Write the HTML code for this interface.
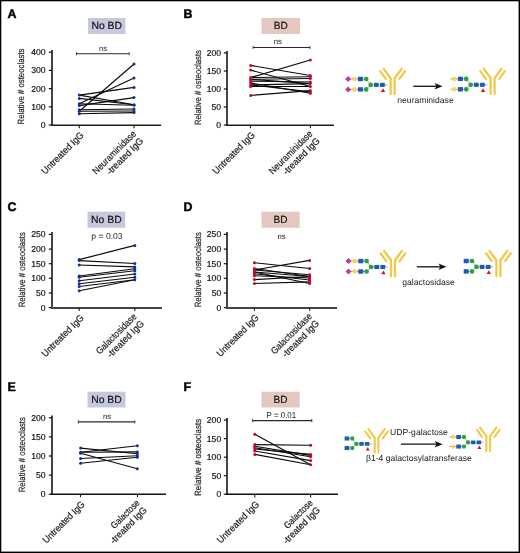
<!DOCTYPE html>
<html><head><meta charset="utf-8"><style>
html,body{margin:0;padding:0;background:#fff;width:520px;height:553px;overflow:hidden}
body{position:relative;font-family:"Liberation Sans", sans-serif}
svg text{text-rendering:geometricPrecision}
svg text.s{stroke:#1a1a1a;stroke-width:.2px;paint-order:stroke}
svg text.t{stroke:#111;stroke-width:.18px;paint-order:stroke}
</style></head><body>
<svg width="520" height="553" viewBox="0 0 520 553" style="position:absolute;left:0;top:0;will-change:transform"><g font-family='"Liberation Sans", sans-serif' style="paint-order:stroke"><text x="7.6" y="18" font-size="12.4" text-anchor="start" font-weight="bold" fill="#000" style="stroke:#000;stroke-width:.45px">A</text><rect x="88" y="18" width="37.5" height="16" fill="#c6c9dd"/><text class="s" x="106.75" y="28.9" font-size="10.4" text-anchor="middle" fill="#111" textLength="30.6" lengthAdjust="spacingAndGlyphs">No BD</text><line x1="52.0" y1="50" x2="52.0" y2="125.6" stroke="#454545" stroke-width="2"/><line x1="48.8" y1="52.2" x2="52.0" y2="52.2" stroke="#111" stroke-width="1.2"/><text x="45.5" y="55.2" font-size="8.6" text-anchor="end" font-weight="normal" fill="#111" class="t">400</text><line x1="48.8" y1="70.4" x2="52.0" y2="70.4" stroke="#111" stroke-width="1.2"/><text x="45.5" y="73.4" font-size="8.6" text-anchor="end" font-weight="normal" fill="#111" class="t">300</text><line x1="48.8" y1="88.6" x2="52.0" y2="88.6" stroke="#111" stroke-width="1.2"/><text x="45.5" y="91.6" font-size="8.6" text-anchor="end" font-weight="normal" fill="#111" class="t">200</text><line x1="48.8" y1="106.8" x2="52.0" y2="106.8" stroke="#111" stroke-width="1.2"/><text x="45.5" y="109.8" font-size="8.6" text-anchor="end" font-weight="normal" fill="#111" class="t">100</text><line x1="48.8" y1="125" x2="52.0" y2="125" stroke="#111" stroke-width="1.2"/><text x="45.5" y="128.0" font-size="8.6" text-anchor="end" font-weight="normal" fill="#111" class="t">0</text><text class="s" transform="translate(23.6,86.5) rotate(-90)" font-size="9" text-anchor="middle" fill="#222" textLength="76" lengthAdjust="spacingAndGlyphs">Relative # osteoclasts</text><line x1="51" y1="125.2" x2="161" y2="125.2" stroke="#1e1e1e" stroke-width="1.4"/><line x1="79.3" y1="125" x2="79.3" y2="128.2" stroke="#1a1a1a" stroke-width="1.1"/><line x1="134" y1="125" x2="134" y2="128.2" stroke="#1a1a1a" stroke-width="1.1"/><line x1="76.5" y1="53.7" x2="129.2" y2="53.7" stroke="#2a2a2a" stroke-width="1.1"/><line x1="76.5" y1="52.1" x2="76.5" y2="55.300000000000004" stroke="#333" stroke-width="0.9"/><line x1="129.2" y1="52.1" x2="129.2" y2="55.300000000000004" stroke="#333" stroke-width="0.9"/><text x="103" y="51" font-size="7.8" text-anchor="middle" font-weight="normal" fill="#222" >ns</text><line x1="79.3" y1="111.3" x2="134" y2="64.0" stroke="#0a0a0a" stroke-width="1.15"/><line x1="79.3" y1="103.7" x2="134" y2="78.1" stroke="#0a0a0a" stroke-width="1.15"/><line x1="79.3" y1="95.1" x2="134" y2="87.4" stroke="#0a0a0a" stroke-width="1.15"/><line x1="79.3" y1="95.1" x2="134" y2="104.7" stroke="#0a0a0a" stroke-width="1.15"/><line x1="79.3" y1="98.4" x2="134" y2="104.7" stroke="#0a0a0a" stroke-width="1.15"/><line x1="79.3" y1="105.6" x2="134" y2="97.6" stroke="#0a0a0a" stroke-width="1.15"/><line x1="79.3" y1="103.7" x2="134" y2="105.2" stroke="#0a0a0a" stroke-width="1.15"/><line x1="79.3" y1="109.8" x2="134" y2="109" stroke="#0a0a0a" stroke-width="1.15"/><line x1="79.3" y1="111.3" x2="134" y2="111" stroke="#0a0a0a" stroke-width="1.15"/><line x1="79.3" y1="113.8" x2="134" y2="112.6" stroke="#0a0a0a" stroke-width="1.15"/><circle cx="79.3" cy="95.1" r="1.5" fill="#13308a"/><circle cx="79.3" cy="98.4" r="1.5" fill="#13308a"/><circle cx="79.3" cy="103.7" r="1.5" fill="#13308a"/><circle cx="79.3" cy="105.6" r="1.5" fill="#13308a"/><circle cx="79.3" cy="109.8" r="1.5" fill="#13308a"/><circle cx="79.3" cy="111.3" r="1.5" fill="#13308a"/><circle cx="79.3" cy="113.8" r="1.5" fill="#13308a"/><circle cx="134" cy="64.0" r="1.5" fill="#13308a"/><circle cx="134" cy="78.1" r="1.5" fill="#13308a"/><circle cx="134" cy="87.4" r="1.5" fill="#13308a"/><circle cx="134" cy="97.6" r="1.5" fill="#13308a"/><circle cx="134" cy="104.7" r="1.5" fill="#13308a"/><circle cx="134" cy="105.2" r="1.5" fill="#13308a"/><circle cx="134" cy="109" r="1.5" fill="#13308a"/><circle cx="134" cy="111" r="1.5" fill="#13308a"/><circle cx="134" cy="112.6" r="1.5" fill="#13308a"/><text class="s" transform="translate(45.34,174.66) rotate(-45)" x="0" y="0" font-size="9.5" fill="#1a1a1a" textLength="55.1" lengthAdjust="spacingAndGlyphs">Untreated IgG</text><text class="s" transform="translate(96.35,174.75) rotate(-45)" x="0" y="0" font-size="9.5" fill="#1a1a1a" textLength="57.2" lengthAdjust="spacingAndGlyphs">Neuraminidase</text><text class="s" transform="translate(110.13,175.37) rotate(-45)" x="0" y="0" font-size="9.5" fill="#1a1a1a" textLength="47.9" lengthAdjust="spacingAndGlyphs">-treated IgG</text><text x="183.6" y="18" font-size="12.4" text-anchor="start" font-weight="bold" fill="#000" style="stroke:#000;stroke-width:.45px">B</text><rect x="261.5" y="18" width="38.5" height="16" fill="#e4c8bf"/><text class="s" x="280.75" y="28.9" font-size="10.4" text-anchor="middle" fill="#111" textLength="14.0" lengthAdjust="spacingAndGlyphs">BD</text><line x1="227.0" y1="51" x2="227.0" y2="125.6" stroke="#454545" stroke-width="2"/><line x1="223.8" y1="52.9" x2="227.0" y2="52.9" stroke="#111" stroke-width="1.2"/><text x="221" y="55.9" font-size="8.6" text-anchor="end" font-weight="normal" fill="#111" class="t">200</text><line x1="223.8" y1="71.0" x2="227.0" y2="71.0" stroke="#111" stroke-width="1.2"/><text x="221" y="74.0" font-size="8.6" text-anchor="end" font-weight="normal" fill="#111" class="t">150</text><line x1="223.8" y1="89.0" x2="227.0" y2="89.0" stroke="#111" stroke-width="1.2"/><text x="221" y="92.0" font-size="8.6" text-anchor="end" font-weight="normal" fill="#111" class="t">100</text><line x1="223.8" y1="107.0" x2="227.0" y2="107.0" stroke="#111" stroke-width="1.2"/><text x="221" y="110.0" font-size="8.6" text-anchor="end" font-weight="normal" fill="#111" class="t">50</text><line x1="223.8" y1="125" x2="227.0" y2="125" stroke="#111" stroke-width="1.2"/><text x="221" y="128.0" font-size="8.6" text-anchor="end" font-weight="normal" fill="#111" class="t">0</text><text class="s" transform="translate(200.8,87.6) rotate(-90)" font-size="9" text-anchor="middle" fill="#222" textLength="75" lengthAdjust="spacingAndGlyphs">Relative # osteoclasts</text><line x1="226" y1="125.2" x2="334" y2="125.2" stroke="#1e1e1e" stroke-width="1.4"/><line x1="250.5" y1="125" x2="250.5" y2="128.2" stroke="#1a1a1a" stroke-width="1.1"/><line x1="310.4" y1="125" x2="310.4" y2="128.2" stroke="#1a1a1a" stroke-width="1.1"/><line x1="253.1" y1="47.5" x2="309.9" y2="47.5" stroke="#2a2a2a" stroke-width="1.1"/><line x1="253.1" y1="45.9" x2="253.1" y2="49.1" stroke="#333" stroke-width="0.9"/><line x1="309.9" y1="45.9" x2="309.9" y2="49.1" stroke="#333" stroke-width="0.9"/><text x="277.8" y="44.2" font-size="7.8" text-anchor="middle" font-weight="normal" fill="#222" >ns</text><line x1="250.7" y1="65.4" x2="310.3" y2="75.5" stroke="#0a0a0a" stroke-width="1.15"/><line x1="250.7" y1="70.1" x2="310.3" y2="86.5" stroke="#0a0a0a" stroke-width="1.15"/><line x1="250.7" y1="77.5" x2="310.3" y2="60" stroke="#0a0a0a" stroke-width="1.15"/><line x1="250.7" y1="95.4" x2="310.3" y2="90.6" stroke="#0a0a0a" stroke-width="1.15"/><line x1="250.7" y1="82.9" x2="310.3" y2="93.3" stroke="#0a0a0a" stroke-width="1.15"/><line x1="250.7" y1="84.9" x2="310.3" y2="91.9" stroke="#0a0a0a" stroke-width="1.15"/><line x1="250.7" y1="77.5" x2="310.3" y2="76.8" stroke="#0a0a0a" stroke-width="1.15"/><line x1="250.7" y1="79.3" x2="310.3" y2="78.5" stroke="#0a0a0a" stroke-width="1.15"/><line x1="250.7" y1="81.1" x2="310.3" y2="82" stroke="#0a0a0a" stroke-width="1.15"/><line x1="250.7" y1="84.9" x2="310.3" y2="83.6" stroke="#0a0a0a" stroke-width="1.15"/><line x1="250.7" y1="86.5" x2="310.3" y2="86.5" stroke="#0a0a0a" stroke-width="1.15"/><line x1="250.7" y1="79.3" x2="310.3" y2="83.6" stroke="#0a0a0a" stroke-width="1.15"/><circle cx="250.7" cy="65.4" r="1.5" fill="#bb0a2a"/><circle cx="250.7" cy="70.1" r="1.5" fill="#bb0a2a"/><circle cx="250.7" cy="77.5" r="1.5" fill="#bb0a2a"/><circle cx="250.7" cy="79.3" r="1.5" fill="#bb0a2a"/><circle cx="250.7" cy="81.1" r="1.5" fill="#bb0a2a"/><circle cx="250.7" cy="82.9" r="1.5" fill="#bb0a2a"/><circle cx="250.7" cy="84.9" r="1.5" fill="#bb0a2a"/><circle cx="250.7" cy="86.5" r="1.5" fill="#bb0a2a"/><circle cx="250.7" cy="95.4" r="1.5" fill="#bb0a2a"/><circle cx="310.3" cy="60" r="1.5" fill="#bb0a2a"/><circle cx="310.3" cy="75.5" r="1.5" fill="#bb0a2a"/><circle cx="310.3" cy="76.8" r="1.5" fill="#bb0a2a"/><circle cx="310.3" cy="78.5" r="1.5" fill="#bb0a2a"/><circle cx="310.3" cy="82" r="1.5" fill="#bb0a2a"/><circle cx="310.3" cy="83.6" r="1.5" fill="#bb0a2a"/><circle cx="310.3" cy="86.5" r="1.5" fill="#bb0a2a"/><circle cx="310.3" cy="90.6" r="1.5" fill="#bb0a2a"/><circle cx="310.3" cy="91.9" r="1.5" fill="#bb0a2a"/><circle cx="310.3" cy="93.3" r="1.5" fill="#bb0a2a"/><text class="s" transform="translate(216.54,174.66) rotate(-45)" x="0" y="0" font-size="9.5" fill="#1a1a1a" textLength="55.1" lengthAdjust="spacingAndGlyphs">Untreated IgG</text><text class="s" transform="translate(272.75,174.75) rotate(-45)" x="0" y="0" font-size="9.5" fill="#1a1a1a" textLength="57.2" lengthAdjust="spacingAndGlyphs">Neuraminidase</text><text class="s" transform="translate(286.53,175.37) rotate(-45)" x="0" y="0" font-size="9.5" fill="#1a1a1a" textLength="47.9" lengthAdjust="spacingAndGlyphs">-treated IgG</text><line x1="348.09999999999997" y1="79.0" x2="366.2" y2="79.0" stroke="#9a9a9a" stroke-width="0.9"/><line x1="366.2" y1="79.0" x2="370.7" y2="84.9" stroke="#9a9a9a" stroke-width="0.9"/><line x1="348.09999999999997" y1="89.4" x2="366.2" y2="89.4" stroke="#9a9a9a" stroke-width="0.9"/><line x1="366.2" y1="89.4" x2="370.7" y2="84.9" stroke="#9a9a9a" stroke-width="0.9"/><line x1="370.7" y1="84.9" x2="387.3" y2="84.9" stroke="#9a9a9a" stroke-width="0.9"/><path d="M345.09999999999997,79.0 L348.09999999999997,76.0 L351.09999999999997,79.0 L348.09999999999997,82.0 Z" fill="#c13a9c"/><circle cx="354.4" cy="79.0" r="2.35" fill="#f6d565"/><rect x="357.9" y="76.8" width="5.0" height="4.4" fill="#1d5bb4"/><circle cx="366.2" cy="79.0" r="2.35" fill="#2e9f3e"/><path d="M345.09999999999997,89.4 L348.09999999999997,86.4 L351.09999999999997,89.4 L348.09999999999997,92.4 Z" fill="#c13a9c"/><circle cx="354.4" cy="89.4" r="2.35" fill="#f6d565"/><rect x="357.9" y="87.2" width="5.0" height="4.4" fill="#1d5bb4"/><circle cx="366.2" cy="89.4" r="2.35" fill="#2e9f3e"/><circle cx="370.7" cy="84.9" r="2.35" fill="#2e9f3e"/><rect x="373.95" y="82.85000000000001" width="4.7" height="4.1" fill="#1d5bb4"/><rect x="380.04999999999995" y="82.85000000000001" width="4.7" height="4.1" fill="#1d5bb4"/><path d="M383.0,88.30000000000001 L385.2,92.10000000000001 L380.8,92.10000000000001 Z" fill="#d81420"/><path d="M383.70,68.90 L390.60,78.20 L390.60,94.20" fill="none" stroke="#f1c94a" stroke-width="2.3" stroke-linecap="round" stroke-linejoin="round"/><path d="M401.50,68.90 L394.60,78.20 L394.60,94.20" fill="none" stroke="#f1c94a" stroke-width="2.3" stroke-linecap="round" stroke-linejoin="round"/><path d="M380.30,71.30 L385.80,78.90" fill="none" stroke="#f1c94a" stroke-width="2.3" stroke-linecap="round" stroke-linejoin="round"/><path d="M404.90,71.30 L399.40,78.90" fill="none" stroke="#f1c94a" stroke-width="2.3" stroke-linecap="round" stroke-linejoin="round"/><line x1="413.2" y1="86.3" x2="438.5" y2="86.3" stroke="#111" stroke-width="1.3"/><path d="M442.5,86.3 L434.5,83.0 L436.5,86.3 L434.5,89.6 Z" fill="#111"/><text x="397.3" y="102.8" font-size="8.6" text-anchor="start" font-weight="normal" fill="#222" >neuraminidase</text><line x1="450.2" y1="78.89999999999999" x2="466.2" y2="78.89999999999999" stroke="#9a9a9a" stroke-width="0.9"/><line x1="466.2" y1="78.89999999999999" x2="470.7" y2="84.8" stroke="#9a9a9a" stroke-width="0.9"/><line x1="450.2" y1="89.3" x2="466.2" y2="89.3" stroke="#9a9a9a" stroke-width="0.9"/><line x1="466.2" y1="89.3" x2="470.7" y2="84.8" stroke="#9a9a9a" stroke-width="0.9"/><line x1="470.7" y1="84.8" x2="487.3" y2="84.8" stroke="#9a9a9a" stroke-width="0.9"/><circle cx="454.4" cy="78.89999999999999" r="2.35" fill="#f6d565"/><rect x="457.9" y="76.69999999999999" width="5.0" height="4.4" fill="#1d5bb4"/><circle cx="466.2" cy="78.89999999999999" r="2.35" fill="#2e9f3e"/><circle cx="454.4" cy="89.3" r="2.35" fill="#f6d565"/><rect x="457.9" y="87.1" width="5.0" height="4.4" fill="#1d5bb4"/><circle cx="466.2" cy="89.3" r="2.35" fill="#2e9f3e"/><circle cx="470.7" cy="84.8" r="2.35" fill="#2e9f3e"/><rect x="473.95" y="82.75" width="4.7" height="4.1" fill="#1d5bb4"/><rect x="480.04999999999995" y="82.75" width="4.7" height="4.1" fill="#1d5bb4"/><path d="M483.0,88.2 L485.2,92.0 L480.8,92.0 Z" fill="#d81420"/><path d="M483.70,68.80 L490.60,78.10 L490.60,94.10" fill="none" stroke="#f1c94a" stroke-width="2.3" stroke-linecap="round" stroke-linejoin="round"/><path d="M501.50,68.80 L494.60,78.10 L494.60,94.10" fill="none" stroke="#f1c94a" stroke-width="2.3" stroke-linecap="round" stroke-linejoin="round"/><path d="M480.30,71.20 L485.80,78.80" fill="none" stroke="#f1c94a" stroke-width="2.3" stroke-linecap="round" stroke-linejoin="round"/><path d="M504.90,71.20 L499.40,78.80" fill="none" stroke="#f1c94a" stroke-width="2.3" stroke-linecap="round" stroke-linejoin="round"/><text x="7.6" y="211.3" font-size="12.4" text-anchor="start" font-weight="bold" fill="#000" style="stroke:#000;stroke-width:.45px">C</text><rect x="87.5" y="211.7" width="37.7" height="16.1" fill="#c6c9dd"/><text class="s" x="106.35" y="222.6" font-size="10.4" text-anchor="middle" fill="#111" textLength="30.6" lengthAdjust="spacingAndGlyphs">No BD</text><line x1="52.0" y1="232" x2="52.0" y2="308.20000000000005" stroke="#454545" stroke-width="2"/><line x1="48.8" y1="234.4" x2="52.0" y2="234.4" stroke="#111" stroke-width="1.2"/><text x="45.5" y="237.4" font-size="8.6" text-anchor="end" font-weight="normal" fill="#111" class="t">250</text><line x1="48.8" y1="249.1" x2="52.0" y2="249.1" stroke="#111" stroke-width="1.2"/><text x="45.5" y="252.1" font-size="8.6" text-anchor="end" font-weight="normal" fill="#111" class="t">200</text><line x1="48.8" y1="263.7" x2="52.0" y2="263.7" stroke="#111" stroke-width="1.2"/><text x="45.5" y="266.7" font-size="8.6" text-anchor="end" font-weight="normal" fill="#111" class="t">150</text><line x1="48.8" y1="278.3" x2="52.0" y2="278.3" stroke="#111" stroke-width="1.2"/><text x="45.5" y="281.3" font-size="8.6" text-anchor="end" font-weight="normal" fill="#111" class="t">100</text><line x1="48.8" y1="293.0" x2="52.0" y2="293.0" stroke="#111" stroke-width="1.2"/><text x="45.5" y="296.0" font-size="8.6" text-anchor="end" font-weight="normal" fill="#111" class="t">50</text><line x1="48.8" y1="307.6" x2="52.0" y2="307.6" stroke="#111" stroke-width="1.2"/><text x="45.5" y="310.6" font-size="8.6" text-anchor="end" font-weight="normal" fill="#111" class="t">0</text><text class="s" transform="translate(25.1,269.7) rotate(-90)" font-size="9" text-anchor="middle" fill="#222" textLength="75" lengthAdjust="spacingAndGlyphs">Relative # osteoclasts</text><line x1="51" y1="308.0" x2="162" y2="308.0" stroke="#444" stroke-width="2.0"/><line x1="79.2" y1="307.8" x2="79.2" y2="311.0" stroke="#1a1a1a" stroke-width="1.1"/><line x1="134.8" y1="307.8" x2="134.8" y2="311.0" stroke="#1a1a1a" stroke-width="1.1"/><text x="107" y="239.4" font-size="8.6" text-anchor="middle" font-weight="normal" fill="#222" >p = 0.03</text><line x1="79.2" y1="259.6" x2="134.8" y2="245.4" stroke="#0a0a0a" stroke-width="1.15"/><line x1="79.2" y1="260.6" x2="134.8" y2="263.5" stroke="#0a0a0a" stroke-width="1.15"/><line x1="79.2" y1="265" x2="134.8" y2="266.9" stroke="#0a0a0a" stroke-width="1.15"/><line x1="79.2" y1="276" x2="134.8" y2="268.7" stroke="#0a0a0a" stroke-width="1.15"/><line x1="79.2" y1="277.3" x2="134.8" y2="270.8" stroke="#0a0a0a" stroke-width="1.15"/><line x1="79.2" y1="280.8" x2="134.8" y2="274" stroke="#0a0a0a" stroke-width="1.15"/><line x1="79.2" y1="283.7" x2="134.8" y2="277.3" stroke="#0a0a0a" stroke-width="1.15"/><line x1="79.2" y1="286.5" x2="134.8" y2="279.8" stroke="#0a0a0a" stroke-width="1.15"/><line x1="79.2" y1="290.8" x2="134.8" y2="279.8" stroke="#0a0a0a" stroke-width="1.15"/><circle cx="79.2" cy="259.6" r="1.5" fill="#13308a"/><circle cx="79.2" cy="260.6" r="1.5" fill="#13308a"/><circle cx="79.2" cy="265" r="1.5" fill="#13308a"/><circle cx="79.2" cy="276" r="1.5" fill="#13308a"/><circle cx="79.2" cy="277.3" r="1.5" fill="#13308a"/><circle cx="79.2" cy="280.8" r="1.5" fill="#13308a"/><circle cx="79.2" cy="283.7" r="1.5" fill="#13308a"/><circle cx="79.2" cy="286.5" r="1.5" fill="#13308a"/><circle cx="79.2" cy="290.8" r="1.5" fill="#13308a"/><circle cx="134.8" cy="245.4" r="1.5" fill="#13308a"/><circle cx="134.8" cy="263.5" r="1.5" fill="#13308a"/><circle cx="134.8" cy="266.9" r="1.5" fill="#13308a"/><circle cx="134.8" cy="268.7" r="1.5" fill="#13308a"/><circle cx="134.8" cy="270.8" r="1.5" fill="#13308a"/><circle cx="134.8" cy="274" r="1.5" fill="#13308a"/><circle cx="134.8" cy="277.3" r="1.5" fill="#13308a"/><circle cx="134.8" cy="279.8" r="1.5" fill="#13308a"/><text class="s" transform="translate(45.44,357.46) rotate(-45)" x="0" y="0" font-size="9.5" fill="#1a1a1a" textLength="55.1" lengthAdjust="spacingAndGlyphs">Untreated IgG</text><text class="s" transform="translate(99.64,354.86) rotate(-45)" x="0" y="0" font-size="9.5" fill="#1a1a1a" textLength="53.4" lengthAdjust="spacingAndGlyphs">Galactosidase</text><text class="s" transform="translate(110.73,358.17) rotate(-45)" x="0" y="0" font-size="9.5" fill="#1a1a1a" textLength="47.9" lengthAdjust="spacingAndGlyphs">-treated IgG</text><text x="183.4" y="211.3" font-size="12.4" text-anchor="start" font-weight="bold" fill="#000" style="stroke:#000;stroke-width:.45px">D</text><rect x="261.5" y="211.7" width="38.2" height="16.1" fill="#e4c8bf"/><text class="s" x="280.6" y="222.6" font-size="10.4" text-anchor="middle" fill="#111" textLength="14.0" lengthAdjust="spacingAndGlyphs">BD</text><line x1="227.0" y1="232" x2="227.0" y2="308.20000000000005" stroke="#454545" stroke-width="2"/><line x1="223.8" y1="234.4" x2="227.0" y2="234.4" stroke="#111" stroke-width="1.2"/><text x="221.2" y="237.4" font-size="8.6" text-anchor="end" font-weight="normal" fill="#111" class="t">250</text><line x1="223.8" y1="249.1" x2="227.0" y2="249.1" stroke="#111" stroke-width="1.2"/><text x="221.2" y="252.1" font-size="8.6" text-anchor="end" font-weight="normal" fill="#111" class="t">200</text><line x1="223.8" y1="263.7" x2="227.0" y2="263.7" stroke="#111" stroke-width="1.2"/><text x="221.2" y="266.7" font-size="8.6" text-anchor="end" font-weight="normal" fill="#111" class="t">150</text><line x1="223.8" y1="278.3" x2="227.0" y2="278.3" stroke="#111" stroke-width="1.2"/><text x="221.2" y="281.3" font-size="8.6" text-anchor="end" font-weight="normal" fill="#111" class="t">100</text><line x1="223.8" y1="293.0" x2="227.0" y2="293.0" stroke="#111" stroke-width="1.2"/><text x="221.2" y="296.0" font-size="8.6" text-anchor="end" font-weight="normal" fill="#111" class="t">50</text><line x1="223.8" y1="307.6" x2="227.0" y2="307.6" stroke="#111" stroke-width="1.2"/><text x="221.2" y="310.6" font-size="8.6" text-anchor="end" font-weight="normal" fill="#111" class="t">0</text><text class="s" transform="translate(200.6,269.7) rotate(-90)" font-size="9" text-anchor="middle" fill="#222" textLength="75" lengthAdjust="spacingAndGlyphs">Relative # osteoclasts</text><line x1="226" y1="308.0" x2="337" y2="308.0" stroke="#444" stroke-width="2.0"/><line x1="254.4" y1="307.6" x2="254.4" y2="310.8" stroke="#1a1a1a" stroke-width="1.1"/><line x1="309.7" y1="307.6" x2="309.7" y2="310.8" stroke="#1a1a1a" stroke-width="1.1"/><text x="281.5" y="239.4" font-size="7.8" text-anchor="middle" font-weight="normal" fill="#222" >ns</text><line x1="254.4" y1="262.7" x2="309.6" y2="268.5" stroke="#0a0a0a" stroke-width="1.15"/><line x1="254.4" y1="270" x2="309.6" y2="260.4" stroke="#0a0a0a" stroke-width="1.15"/><line x1="254.4" y1="268.5" x2="309.6" y2="276.5" stroke="#0a0a0a" stroke-width="1.15"/><line x1="254.4" y1="272" x2="309.6" y2="283.5" stroke="#0a0a0a" stroke-width="1.15"/><line x1="254.4" y1="273.8" x2="309.6" y2="280" stroke="#0a0a0a" stroke-width="1.15"/><line x1="254.4" y1="275.8" x2="309.6" y2="278" stroke="#0a0a0a" stroke-width="1.15"/><line x1="254.4" y1="279.6" x2="309.6" y2="276.5" stroke="#0a0a0a" stroke-width="1.15"/><line x1="254.4" y1="283.5" x2="309.6" y2="281.9" stroke="#0a0a0a" stroke-width="1.15"/><line x1="254.4" y1="270" x2="309.6" y2="274.8" stroke="#0a0a0a" stroke-width="1.15"/><line x1="254.4" y1="272" x2="309.6" y2="276.5" stroke="#0a0a0a" stroke-width="1.15"/><circle cx="254.4" cy="262.7" r="1.5" fill="#bb0a2a"/><circle cx="254.4" cy="268.5" r="1.5" fill="#bb0a2a"/><circle cx="254.4" cy="270" r="1.5" fill="#bb0a2a"/><circle cx="254.4" cy="272" r="1.5" fill="#bb0a2a"/><circle cx="254.4" cy="273.8" r="1.5" fill="#bb0a2a"/><circle cx="254.4" cy="275.8" r="1.5" fill="#bb0a2a"/><circle cx="254.4" cy="279.6" r="1.5" fill="#bb0a2a"/><circle cx="254.4" cy="283.5" r="1.5" fill="#bb0a2a"/><circle cx="309.6" cy="260.4" r="1.5" fill="#bb0a2a"/><circle cx="309.6" cy="268.5" r="1.5" fill="#bb0a2a"/><circle cx="309.6" cy="274.8" r="1.5" fill="#bb0a2a"/><circle cx="309.6" cy="276.5" r="1.5" fill="#bb0a2a"/><circle cx="309.6" cy="278" r="1.5" fill="#bb0a2a"/><circle cx="309.6" cy="280" r="1.5" fill="#bb0a2a"/><circle cx="309.6" cy="281.9" r="1.5" fill="#bb0a2a"/><circle cx="309.6" cy="283.5" r="1.5" fill="#bb0a2a"/><text class="s" transform="translate(220.44,357.26) rotate(-45)" x="0" y="0" font-size="9.5" fill="#1a1a1a" textLength="55.1" lengthAdjust="spacingAndGlyphs">Untreated IgG</text><text class="s" transform="translate(274.74,354.66) rotate(-45)" x="0" y="0" font-size="9.5" fill="#1a1a1a" textLength="53.4" lengthAdjust="spacingAndGlyphs">Galactosidase</text><text class="s" transform="translate(285.83,357.97) rotate(-45)" x="0" y="0" font-size="9.5" fill="#1a1a1a" textLength="47.9" lengthAdjust="spacingAndGlyphs">-treated IgG</text><line x1="348.5" y1="261.1" x2="366.6" y2="261.1" stroke="#9a9a9a" stroke-width="0.9"/><line x1="366.6" y1="261.1" x2="371.1" y2="267.0" stroke="#9a9a9a" stroke-width="0.9"/><line x1="348.5" y1="271.5" x2="366.6" y2="271.5" stroke="#9a9a9a" stroke-width="0.9"/><line x1="366.6" y1="271.5" x2="371.1" y2="267.0" stroke="#9a9a9a" stroke-width="0.9"/><line x1="371.1" y1="267.0" x2="387.70000000000005" y2="267.0" stroke="#9a9a9a" stroke-width="0.9"/><path d="M345.5,261.1 L348.5,258.1 L351.5,261.1 L348.5,264.1 Z" fill="#c13a9c"/><circle cx="354.8" cy="261.1" r="2.35" fill="#f6d565"/><rect x="358.3" y="258.90000000000003" width="5.0" height="4.4" fill="#1d5bb4"/><circle cx="366.6" cy="261.1" r="2.35" fill="#2e9f3e"/><path d="M345.5,271.5 L348.5,268.5 L351.5,271.5 L348.5,274.5 Z" fill="#c13a9c"/><circle cx="354.8" cy="271.5" r="2.35" fill="#f6d565"/><rect x="358.3" y="269.3" width="5.0" height="4.4" fill="#1d5bb4"/><circle cx="366.6" cy="271.5" r="2.35" fill="#2e9f3e"/><circle cx="371.1" cy="267.0" r="2.35" fill="#2e9f3e"/><rect x="374.35" y="264.95" width="4.7" height="4.1" fill="#1d5bb4"/><rect x="380.45" y="264.95" width="4.7" height="4.1" fill="#1d5bb4"/><path d="M383.40000000000003,270.4 L385.6,274.2 L381.20000000000005,274.2 Z" fill="#d81420"/><path d="M384.10,251.00 L391.00,260.30 L391.00,276.30" fill="none" stroke="#f1c94a" stroke-width="2.3" stroke-linecap="round" stroke-linejoin="round"/><path d="M401.90,251.00 L395.00,260.30 L395.00,276.30" fill="none" stroke="#f1c94a" stroke-width="2.3" stroke-linecap="round" stroke-linejoin="round"/><path d="M380.70,253.40 L386.20,261.00" fill="none" stroke="#f1c94a" stroke-width="2.3" stroke-linecap="round" stroke-linejoin="round"/><path d="M405.30,253.40 L399.80,261.00" fill="none" stroke="#f1c94a" stroke-width="2.3" stroke-linecap="round" stroke-linejoin="round"/><line x1="416.8" y1="266.8" x2="442.4" y2="266.8" stroke="#111" stroke-width="1.3"/><path d="M446.4,266.8 L438.4,263.5 L440.4,266.8 L438.4,270.1 Z" fill="#111"/><text x="402.3" y="285.1" font-size="8.6" text-anchor="start" font-weight="normal" fill="#222" >galactosidase</text><line x1="466.2" y1="261.0" x2="472.0" y2="261.0" stroke="#9a9a9a" stroke-width="0.9"/><line x1="472.0" y1="261.0" x2="476.5" y2="266.9" stroke="#9a9a9a" stroke-width="0.9"/><line x1="466.2" y1="271.4" x2="472.0" y2="271.4" stroke="#9a9a9a" stroke-width="0.9"/><line x1="472.0" y1="271.4" x2="476.5" y2="266.9" stroke="#9a9a9a" stroke-width="0.9"/><line x1="476.5" y1="266.9" x2="493.1" y2="266.9" stroke="#9a9a9a" stroke-width="0.9"/><rect x="463.7" y="258.8" width="5.0" height="4.4" fill="#1d5bb4"/><circle cx="472.0" cy="261.0" r="2.35" fill="#2e9f3e"/><rect x="463.7" y="269.2" width="5.0" height="4.4" fill="#1d5bb4"/><circle cx="472.0" cy="271.4" r="2.35" fill="#2e9f3e"/><circle cx="476.5" cy="266.9" r="2.35" fill="#2e9f3e"/><rect x="479.75" y="264.84999999999997" width="4.7" height="4.1" fill="#1d5bb4"/><rect x="485.84999999999997" y="264.84999999999997" width="4.7" height="4.1" fill="#1d5bb4"/><path d="M488.8,270.29999999999995 L491.0,274.09999999999997 L486.6,274.09999999999997 Z" fill="#d81420"/><path d="M489.50,250.90 L496.40,260.20 L496.40,276.20" fill="none" stroke="#f1c94a" stroke-width="2.3" stroke-linecap="round" stroke-linejoin="round"/><path d="M507.30,250.90 L500.40,260.20 L500.40,276.20" fill="none" stroke="#f1c94a" stroke-width="2.3" stroke-linecap="round" stroke-linejoin="round"/><path d="M486.10,253.30 L491.60,260.90" fill="none" stroke="#f1c94a" stroke-width="2.3" stroke-linecap="round" stroke-linejoin="round"/><path d="M510.70,253.30 L505.20,260.90" fill="none" stroke="#f1c94a" stroke-width="2.3" stroke-linecap="round" stroke-linejoin="round"/><text x="7.4" y="390.8" font-size="12.4" text-anchor="start" font-weight="bold" fill="#000" style="stroke:#000;stroke-width:.45px">E</text><rect x="87.5" y="391.7" width="38" height="15.8" fill="#c6c9dd"/><text class="s" x="106.5" y="402.59999999999997" font-size="10.4" text-anchor="middle" fill="#111" textLength="30.6" lengthAdjust="spacingAndGlyphs">No BD</text><line x1="52.0" y1="415.5" x2="52.0" y2="494.8" stroke="#454545" stroke-width="2"/><line x1="48.8" y1="417.8" x2="52.0" y2="417.8" stroke="#111" stroke-width="1.2"/><text x="45.5" y="420.8" font-size="8.6" text-anchor="end" font-weight="normal" fill="#111" class="t">200</text><line x1="48.8" y1="436.9" x2="52.0" y2="436.9" stroke="#111" stroke-width="1.2"/><text x="45.5" y="439.9" font-size="8.6" text-anchor="end" font-weight="normal" fill="#111" class="t">150</text><line x1="48.8" y1="456.0" x2="52.0" y2="456.0" stroke="#111" stroke-width="1.2"/><text x="45.5" y="459.0" font-size="8.6" text-anchor="end" font-weight="normal" fill="#111" class="t">100</text><line x1="48.8" y1="475.1" x2="52.0" y2="475.1" stroke="#111" stroke-width="1.2"/><text x="45.5" y="478.1" font-size="8.6" text-anchor="end" font-weight="normal" fill="#111" class="t">50</text><line x1="48.8" y1="494.2" x2="52.0" y2="494.2" stroke="#111" stroke-width="1.2"/><text x="45.5" y="497.2" font-size="8.6" text-anchor="end" font-weight="normal" fill="#111" class="t">0</text><text class="s" transform="translate(25.1,454.7) rotate(-90)" font-size="9" text-anchor="middle" fill="#222" textLength="75" lengthAdjust="spacingAndGlyphs">Relative # osteoclasts</text><line x1="51" y1="494.3" x2="166" y2="494.3" stroke="#111" stroke-width="1.4"/><line x1="80.5" y1="494.1" x2="80.5" y2="497.3" stroke="#1a1a1a" stroke-width="1.1"/><line x1="137.5" y1="494.1" x2="137.5" y2="497.3" stroke="#1a1a1a" stroke-width="1.1"/><line x1="78.3" y1="421.9" x2="134.8" y2="421.9" stroke="#2a2a2a" stroke-width="1.1"/><line x1="78.3" y1="420.29999999999995" x2="78.3" y2="423.5" stroke="#333" stroke-width="0.9"/><line x1="134.8" y1="420.29999999999995" x2="134.8" y2="423.5" stroke="#333" stroke-width="0.9"/><text x="107" y="419.2" font-size="7.8" text-anchor="middle" font-weight="normal" fill="#222" >ns</text><line x1="80.6" y1="448.1" x2="137.3" y2="453.8" stroke="#0a0a0a" stroke-width="1.15"/><line x1="80.6" y1="452.3" x2="137.3" y2="445.8" stroke="#0a0a0a" stroke-width="1.15"/><line x1="80.6" y1="453.3" x2="137.3" y2="468.8" stroke="#0a0a0a" stroke-width="1.15"/><line x1="80.6" y1="452.3" x2="137.3" y2="451.9" stroke="#0a0a0a" stroke-width="1.15"/><line x1="80.6" y1="458.5" x2="137.3" y2="455.8" stroke="#0a0a0a" stroke-width="1.15"/><line x1="80.6" y1="463.3" x2="137.3" y2="457.3" stroke="#0a0a0a" stroke-width="1.15"/><circle cx="80.6" cy="448.1" r="1.5" fill="#13308a"/><circle cx="80.6" cy="452.3" r="1.5" fill="#13308a"/><circle cx="80.6" cy="453.3" r="1.5" fill="#13308a"/><circle cx="80.6" cy="458.5" r="1.5" fill="#13308a"/><circle cx="80.6" cy="463.3" r="1.5" fill="#13308a"/><circle cx="137.3" cy="445.8" r="1.5" fill="#13308a"/><circle cx="137.3" cy="451.9" r="1.5" fill="#13308a"/><circle cx="137.3" cy="453.8" r="1.5" fill="#13308a"/><circle cx="137.3" cy="455.8" r="1.5" fill="#13308a"/><circle cx="137.3" cy="457.3" r="1.5" fill="#13308a"/><circle cx="137.3" cy="468.8" r="1.5" fill="#13308a"/><text class="s" transform="translate(46.44,543.86) rotate(-45)" x="0" y="0" font-size="9.5" fill="#1a1a1a" textLength="55.1" lengthAdjust="spacingAndGlyphs">Untreated IgG</text><text class="s" transform="translate(114.56,529.24) rotate(-45)" x="0" y="0" font-size="9.5" fill="#1a1a1a" textLength="36.4" lengthAdjust="spacingAndGlyphs">Galactose</text><text class="s" transform="translate(113.63,544.57) rotate(-45)" x="0" y="0" font-size="9.5" fill="#1a1a1a" textLength="47.9" lengthAdjust="spacingAndGlyphs">-treated IgG</text><text x="183.6" y="390.6" font-size="12.4" text-anchor="start" font-weight="bold" fill="#000" style="stroke:#000;stroke-width:.45px">F</text><rect x="261.5" y="391.7" width="38.2" height="15.8" fill="#e4c8bf"/><text class="s" x="280.6" y="402.59999999999997" font-size="10.4" text-anchor="middle" fill="#111" textLength="14.0" lengthAdjust="spacingAndGlyphs">BD</text><line x1="227.0" y1="418" x2="227.0" y2="494.8" stroke="#454545" stroke-width="2"/><line x1="223.8" y1="420.1" x2="227.0" y2="420.1" stroke="#111" stroke-width="1.2"/><text x="221.2" y="423.1" font-size="8.6" text-anchor="end" font-weight="normal" fill="#111" class="t">200</text><line x1="223.8" y1="438.6" x2="227.0" y2="438.6" stroke="#111" stroke-width="1.2"/><text x="221.2" y="441.6" font-size="8.6" text-anchor="end" font-weight="normal" fill="#111" class="t">150</text><line x1="223.8" y1="457.2" x2="227.0" y2="457.2" stroke="#111" stroke-width="1.2"/><text x="221.2" y="460.2" font-size="8.6" text-anchor="end" font-weight="normal" fill="#111" class="t">100</text><line x1="223.8" y1="475.7" x2="227.0" y2="475.7" stroke="#111" stroke-width="1.2"/><text x="221.2" y="478.7" font-size="8.6" text-anchor="end" font-weight="normal" fill="#111" class="t">50</text><line x1="223.8" y1="494.2" x2="227.0" y2="494.2" stroke="#111" stroke-width="1.2"/><text x="221.2" y="497.2" font-size="8.6" text-anchor="end" font-weight="normal" fill="#111" class="t">0</text><text class="s" transform="translate(200.6,457.4) rotate(-90)" font-size="9" text-anchor="middle" fill="#222" textLength="77" lengthAdjust="spacingAndGlyphs">Relative # osteoclasts</text><line x1="226" y1="494.3" x2="338" y2="494.3" stroke="#111" stroke-width="1.4"/><line x1="254.8" y1="494.2" x2="254.8" y2="497.4" stroke="#1a1a1a" stroke-width="1.1"/><line x1="310.6" y1="494.2" x2="310.6" y2="497.4" stroke="#1a1a1a" stroke-width="1.1"/><line x1="252.6" y1="420.6" x2="311.8" y2="420.6" stroke="#2a2a2a" stroke-width="1.1"/><line x1="252.6" y1="419.0" x2="252.6" y2="422.20000000000005" stroke="#333" stroke-width="0.9"/><line x1="311.8" y1="419.0" x2="311.8" y2="422.20000000000005" stroke="#333" stroke-width="0.9"/><text x="281.4" y="417.5" font-size="8.6" text-anchor="middle" font-weight="normal" fill="#222" textLength="29.6" lengthAdjust="spacingAndGlyphs">P = 0.01</text><line x1="254.8" y1="434.2" x2="310.6" y2="464.8" stroke="#0a0a0a" stroke-width="1.15"/><line x1="254.8" y1="444.6" x2="310.6" y2="445.2" stroke="#0a0a0a" stroke-width="1.15"/><line x1="254.8" y1="446.2" x2="310.6" y2="455.4" stroke="#0a0a0a" stroke-width="1.15"/><line x1="254.8" y1="447.7" x2="310.6" y2="456.7" stroke="#0a0a0a" stroke-width="1.15"/><line x1="254.8" y1="449" x2="310.6" y2="454.4" stroke="#0a0a0a" stroke-width="1.15"/><line x1="254.8" y1="451" x2="310.6" y2="460.6" stroke="#0a0a0a" stroke-width="1.15"/><line x1="254.8" y1="454.4" x2="310.6" y2="464.8" stroke="#0a0a0a" stroke-width="1.15"/><circle cx="254.8" cy="434.2" r="1.5" fill="#bb0a2a"/><circle cx="254.8" cy="444.6" r="1.5" fill="#bb0a2a"/><circle cx="254.8" cy="446.2" r="1.5" fill="#bb0a2a"/><circle cx="254.8" cy="447.7" r="1.5" fill="#bb0a2a"/><circle cx="254.8" cy="449" r="1.5" fill="#bb0a2a"/><circle cx="254.8" cy="451" r="1.5" fill="#bb0a2a"/><circle cx="254.8" cy="454.4" r="1.5" fill="#bb0a2a"/><circle cx="310.6" cy="445.2" r="1.5" fill="#bb0a2a"/><circle cx="310.6" cy="454.4" r="1.5" fill="#bb0a2a"/><circle cx="310.6" cy="455.4" r="1.5" fill="#bb0a2a"/><circle cx="310.6" cy="456.7" r="1.5" fill="#bb0a2a"/><circle cx="310.6" cy="460.6" r="1.5" fill="#bb0a2a"/><circle cx="310.6" cy="464.8" r="1.5" fill="#bb0a2a"/><text class="s" transform="translate(220.84,543.86) rotate(-45)" x="0" y="0" font-size="9.5" fill="#1a1a1a" textLength="55.1" lengthAdjust="spacingAndGlyphs">Untreated IgG</text><text class="s" transform="translate(287.66,529.24) rotate(-45)" x="0" y="0" font-size="9.5" fill="#1a1a1a" textLength="36.4" lengthAdjust="spacingAndGlyphs">Galactose</text><text class="s" transform="translate(286.73,544.57) rotate(-45)" x="0" y="0" font-size="9.5" fill="#1a1a1a" textLength="47.9" lengthAdjust="spacingAndGlyphs">-treated IgG</text><line x1="346.924" y1="438.472" x2="352.26" y2="438.472" stroke="#9a9a9a" stroke-width="0.9"/><line x1="352.26" y1="438.472" x2="356.4" y2="443.9" stroke="#9a9a9a" stroke-width="0.9"/><line x1="346.924" y1="448.03999999999996" x2="352.26" y2="448.03999999999996" stroke="#9a9a9a" stroke-width="0.9"/><line x1="352.26" y1="448.03999999999996" x2="356.4" y2="443.9" stroke="#9a9a9a" stroke-width="0.9"/><line x1="356.4" y1="443.9" x2="371.67199999999997" y2="443.9" stroke="#9a9a9a" stroke-width="0.9"/><rect x="344.62399999999997" y="436.448" width="4.6000000000000005" height="4.048000000000001" fill="#1d5bb4"/><circle cx="352.26" cy="438.472" r="2.1620000000000004" fill="#2e9f3e"/><rect x="344.62399999999997" y="446.01599999999996" width="4.6000000000000005" height="4.048000000000001" fill="#1d5bb4"/><circle cx="352.26" cy="448.03999999999996" r="2.1620000000000004" fill="#2e9f3e"/><circle cx="356.4" cy="443.9" r="2.1620000000000004" fill="#2e9f3e"/><rect x="359.39" y="442.01399999999995" width="4.324000000000001" height="3.772" fill="#1d5bb4"/><rect x="365.002" y="442.01399999999995" width="4.324000000000001" height="3.772" fill="#1d5bb4"/><path d="M367.71599999999995,447.028 L369.73999999999995,450.524 L365.69199999999995,450.524 Z" fill="#d81420"/><path d="M368.36,429.18 L374.71,437.74 L374.71,452.46" fill="none" stroke="#f1c94a" stroke-width="2.116" stroke-linecap="round" stroke-linejoin="round"/><path d="M384.74,429.18 L378.39,437.74 L378.39,452.46" fill="none" stroke="#f1c94a" stroke-width="2.116" stroke-linecap="round" stroke-linejoin="round"/><path d="M365.23,431.39 L370.29,438.38" fill="none" stroke="#f1c94a" stroke-width="2.116" stroke-linecap="round" stroke-linejoin="round"/><path d="M387.86,431.39 L382.80,438.38" fill="none" stroke="#f1c94a" stroke-width="2.116" stroke-linecap="round" stroke-linejoin="round"/><line x1="400.9" y1="444.2" x2="438.6" y2="444.2" stroke="#111" stroke-width="1.3"/><path d="M442.6,444.2 L434.6,440.9 L436.6,444.2 L434.6,447.5 Z" fill="#111"/><text x="390.1" y="434.8" font-size="8.6" text-anchor="start" font-weight="normal" fill="#222" >UDP-galactose</text><text x="366.0" y="461.3" font-size="8.6" text-anchor="start" font-weight="normal" fill="#222" >β1-4 galactosylatransferase</text><line x1="449.24" y1="436.972" x2="463.96000000000004" y2="436.972" stroke="#9a9a9a" stroke-width="0.9"/><line x1="463.96000000000004" y1="436.972" x2="468.1" y2="442.4" stroke="#9a9a9a" stroke-width="0.9"/><line x1="449.24" y1="446.53999999999996" x2="463.96000000000004" y2="446.53999999999996" stroke="#9a9a9a" stroke-width="0.9"/><line x1="463.96000000000004" y1="446.53999999999996" x2="468.1" y2="442.4" stroke="#9a9a9a" stroke-width="0.9"/><line x1="468.1" y1="442.4" x2="483.372" y2="442.4" stroke="#9a9a9a" stroke-width="0.9"/><circle cx="453.10400000000004" cy="436.972" r="2.1620000000000004" fill="#f6d565"/><rect x="456.324" y="434.948" width="4.6000000000000005" height="4.048000000000001" fill="#1d5bb4"/><circle cx="463.96000000000004" cy="436.972" r="2.1620000000000004" fill="#2e9f3e"/><circle cx="453.10400000000004" cy="446.53999999999996" r="2.1620000000000004" fill="#f6d565"/><rect x="456.324" y="444.51599999999996" width="4.6000000000000005" height="4.048000000000001" fill="#1d5bb4"/><circle cx="463.96000000000004" cy="446.53999999999996" r="2.1620000000000004" fill="#2e9f3e"/><circle cx="468.1" cy="442.4" r="2.1620000000000004" fill="#2e9f3e"/><rect x="471.09000000000003" y="440.51399999999995" width="4.324000000000001" height="3.772" fill="#1d5bb4"/><rect x="476.70200000000006" y="440.51399999999995" width="4.324000000000001" height="3.772" fill="#1d5bb4"/><path d="M479.416,445.528 L481.44,449.024 L477.392,449.024 Z" fill="#d81420"/><path d="M480.06,427.68 L486.41,436.24 L486.41,450.96" fill="none" stroke="#f1c94a" stroke-width="2.116" stroke-linecap="round" stroke-linejoin="round"/><path d="M496.44,427.68 L490.09,436.24 L490.09,450.96" fill="none" stroke="#f1c94a" stroke-width="2.116" stroke-linecap="round" stroke-linejoin="round"/><path d="M476.93,429.89 L481.99,436.88" fill="none" stroke="#f1c94a" stroke-width="2.116" stroke-linecap="round" stroke-linejoin="round"/><path d="M499.56,429.89 L494.50,436.88" fill="none" stroke="#f1c94a" stroke-width="2.116" stroke-linecap="round" stroke-linejoin="round"/><rect x="0" y="0" width="520" height="1.3" fill="#000"/><rect x="0" y="0" width="1.3" height="553" fill="#000"/><rect x="518.6" y="0" width="1.4" height="553" fill="#000"/><rect x="0" y="551.6" width="520" height="1.4" fill="#000"/></g></svg>
</body></html>
